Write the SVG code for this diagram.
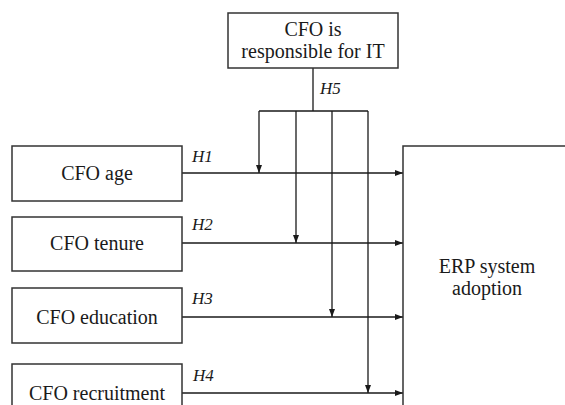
<svg xmlns="http://www.w3.org/2000/svg" width="565" height="405" viewBox="0 0 565 405">
<defs>
<marker id="ah" viewBox="0 0 8 6" refX="8" refY="3" markerWidth="8" markerHeight="6" markerUnits="userSpaceOnUse" orient="auto">
<path d="M0,0 L8,3 L0,6 Z" fill="#1a1a1a"/>
</marker>
<style>
.box{fill:#fff;stroke:#333;stroke-width:1.5}
.lbl{font-family:'Liberation Serif','DejaVu Serif',serif;font-size:20px;fill:#1a1a1a;text-anchor:middle}
.h{font-family:'Liberation Serif','DejaVu Serif',serif;font-size:17px;font-style:italic;fill:#1a1a1a}
.ln{fill:none;stroke:#1a1a1a;stroke-width:1.3}
</style>
</defs>
<rect width="565" height="405" fill="#fff"/>
<g id="connectors">
<path class="ln" d="M313,68 V111 M259,111 H368"/>
<path class="ln" d="M259,111 V173" marker-end="url(#ah)"/>
<path class="ln" d="M296,111 V243" marker-end="url(#ah)"/>
<path class="ln" d="M332,111 V317" marker-end="url(#ah)"/>
<path class="ln" d="M368,111 V393" marker-end="url(#ah)"/>
<path class="ln" d="M182,173 H403" marker-end="url(#ah)"/>
<path class="ln" d="M182,243 H403" marker-end="url(#ah)"/>
<path class="ln" d="M182,317 H403" marker-end="url(#ah)"/>
<path class="ln" d="M182,393 H403" marker-end="url(#ah)"/>
<text class="h" x="320" y="94">H5</text>
<text class="h" x="192" y="162">H1</text>
<text class="h" x="192" y="230">H2</text>
<text class="h" x="192" y="304">H3</text>
<text class="h" x="193" y="381">H4</text>
</g>
<g id="cfo-it">
<rect class="box" x="228" y="13" width="170" height="55"/>
<text class="lbl" x="313" y="36">CFO is</text>
<text class="lbl" x="313" y="58">responsible for IT</text>
</g>
<g id="cfo-age">
<rect class="box" x="12" y="146" width="170" height="55"/>
<text class="lbl" x="97" y="180">CFO age</text>
</g>
<g id="cfo-tenure">
<rect class="box" x="12" y="217" width="170" height="54"/>
<text class="lbl" x="97" y="250">CFO tenure</text>
</g>
<g id="cfo-education">
<rect class="box" x="12" y="288" width="170" height="55"/>
<text class="lbl" x="97" y="324">CFO education</text>
</g>
<g id="cfo-recruitment">
<rect class="box" x="12" y="364" width="170" height="60"/>
<text class="lbl" x="97" y="400">CFO recruitment</text>
</g>
<g id="erp">
<rect class="box" x="403" y="146" width="200" height="280"/>
<text class="lbl" x="487" y="273">ERP system</text>
<text class="lbl" x="487" y="295">adoption</text>
</g>
</svg>
